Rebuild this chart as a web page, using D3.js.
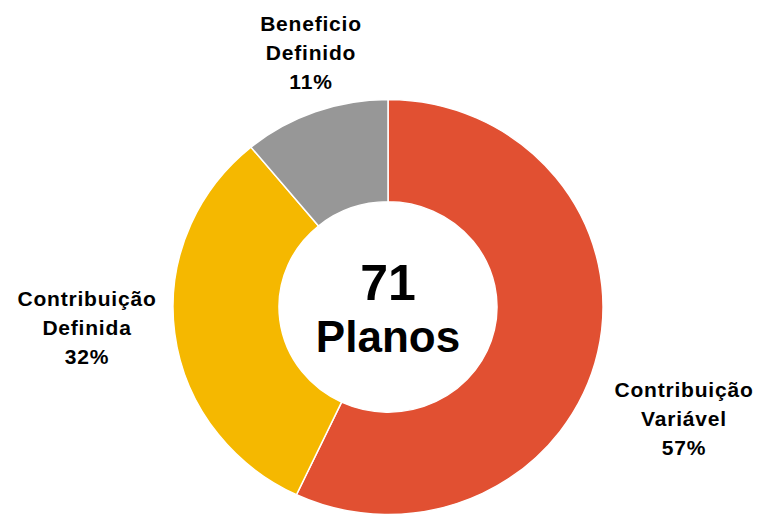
<!DOCTYPE html>
<html>
<head>
<meta charset="utf-8">
<script src="https://cdn.jsdelivr.net/npm/d3@7"></script>
<style>
  body { margin: 0; background: #fff; }
  svg { display: block; }
  text { font-family: "Liberation Sans", Arial, sans-serif; font-weight: bold; fill: #000; }
</style>
</head>
<body>
<div class="chart"></div>
<script>
// data
const categories = ['Contribuição Variável', 'Contribuição Definida', 'Beneficio Definido'];
const labelLines = [['Contribuição', 'Variável'], ['Contribuição', 'Definida'], ['Beneficio', 'Definido']];
const values = [57, 32, 11];
const colors = ['#E15032', '#F5B800', '#979797'];
const totalPlans = 71;
const centerWord = 'Planos';

// layout
const w = 758;
const h = 514;
const cx = 388;
const cy = 307;
const outerR = 215;
const innerR = 109;
const squash = 0.965;
// label block centre x and first baseline, per slice
const labelPos = [[684, 397], [87, 306], [311, 31]];
const lineStep = 29;

const svg = d3.select('.chart')
              .append('svg')
              .attr('width', w)
              .attr('height', h);

const pie = d3.pie().sort(null).value(d => d);
const arc = d3.arc().innerRadius(innerR).outerRadius(outerR);

const ring = svg.append('g')
                .attr('transform', `translate(${cx}, ${cy}) scale(1, ${squash})`);

ring.selectAll('path')
    .data(pie(values))
    .enter()
    .append('path')
    .attr('d', arc)
    .attr('fill', (d, i) => colors[i])
    .attr('stroke', '#fff')
    .attr('stroke-width', 1.5);

// centre text
svg.append('text')
   .attr('x', cx)
   .attr('y', 300)
   .attr('text-anchor', 'middle')
   .style('font-size', '50px')
   .text(totalPlans);

svg.append('text')
   .attr('x', cx)
   .attr('y', 352)
   .attr('text-anchor', 'middle')
   .style('font-size', '44px')
   .text(centerWord);

// slice labels
const labels = svg.selectAll('.label')
                  .data(values)
                  .enter()
                  .append('text')
                  .attr('class', 'label')
                  .attr('text-anchor', 'middle')
                  .style('font-size', '21px')
                  .style('letter-spacing', '0.8px');

labels.each(function(d, i) {
  const t = d3.select(this);
  const lines = labelLines[i].concat([`${d}%`]);
  lines.forEach((s, j) => {
    t.append('tspan')
     .attr('x', labelPos[i][0])
     .attr('y', labelPos[i][1] + j * lineStep)
     .text(s);
  });
});
</script>
</body>
</html>
